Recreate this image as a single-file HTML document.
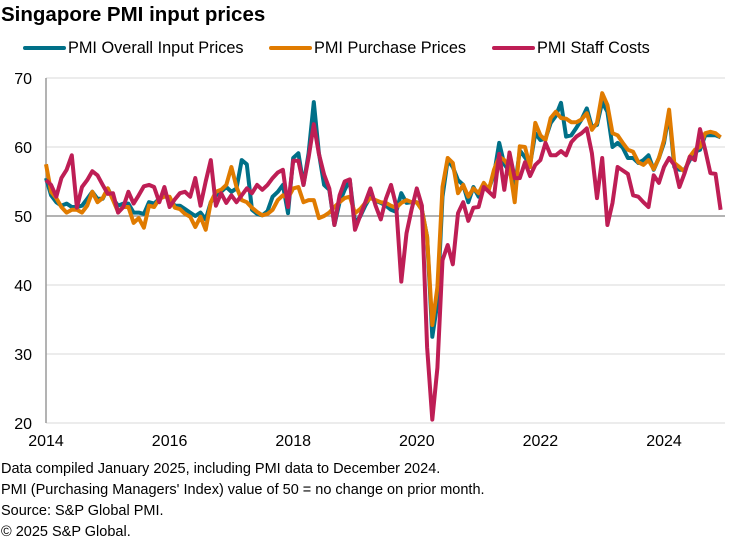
<!DOCTYPE html>
<html><head><meta charset="utf-8"><style>
body{margin:0;background:#fff;font-family:"Liberation Sans",Arial,sans-serif;}
svg text{font-family:"Liberation Sans",Arial,sans-serif;}
</style></head><body>
<svg id="chart" width="743" height="541" xmlns="http://www.w3.org/2000/svg">
<text x="1" y="21" font-size="20.5" font-weight="bold" fill="#000">Singapore PMI input prices</text>
<g>
 <g><line x1="25" y1="48" x2="64" y2="48" stroke="#007088" stroke-width="4" stroke-linecap="round"/><text x="68" y="53" font-size="16.3">PMI Overall Input Prices</text></g>
 <g><line x1="271" y1="48" x2="310" y2="48" stroke="#e07b00" stroke-width="4" stroke-linecap="round"/><text x="314" y="53" font-size="16.3">PMI Purchase Prices</text></g>
 <g><line x1="494" y1="48" x2="533" y2="48" stroke="#be1e55" stroke-width="4" stroke-linecap="round"/><text x="537" y="53" font-size="16.3">PMI Staff Costs</text></g>
</g>
<g id="grid"></g>
<g id="series"></g>
<g font-size="14.5" fill="#000">
 <text x="1" y="473">Data compiled January 2025, including PMI data to December 2024.</text>
 <text x="1" y="494">PMI (Purchasing Managers' Index) value of 50 = no change on prior month.</text>
 <text x="1" y="515">Source: S&amp;P Global PMI.</text>
 <text x="1" y="536">© 2025 S&amp;P Global.</text>
</g>
</svg>
<script>
const yTicks=[20,30,40,50,60,70];
const xTickLabels=["2014","2016","2018","2020","2022","2024"];
const startYear=2014;
const overall=[
55.5,53,52,51.5,51.8,51.3,51.3,51.5,52.5,53.5,52.5,52.5,
54,52.5,51.5,51.8,51.8,50.5,50.5,50.3,52,51.8,52.5,53,
52.5,51.5,51.5,51,50.5,50,50.5,49.5,52,53,53.5,54.2,
53.5,54,58.1,57.5,50.9,50.3,50.1,50.7,52.8,53.5,54.5,50.4,
58.4,59.1,54.5,59.1,66.5,59.1,54.5,53.8,48.7,52,53.8,55.2,
49,49.9,51.5,52.8,52.2,51.9,51.5,50.9,50.6,53.3,51.9,52,
52,50.9,47,32.5,37.4,52.8,58.1,57.1,55.2,54.5,52,54.2,
52.8,54.5,54,56,60.6,57.5,56.5,54,59.5,58.5,57.5,62,
61,61.2,63.5,64.5,66.4,61.5,61.7,62.8,64,65.6,62.9,63.2,
66.5,65.1,60,60.6,59.9,58.4,58.4,57.7,58.1,58.8,56.7,58.4,
60.6,64.9,57.1,56.7,56.7,58.1,59.3,59.6,61.7,61.7,61.7,61.4];
const purchase=[
57.5,53.5,52.6,51.3,50.5,50.9,50.9,50.5,51.5,53.5,52,52.6,
54,52.3,50.6,51.3,51.3,49,49.7,48.3,51.5,51.3,52.5,52.8,
52.8,51.2,51,50.3,49.9,48.4,49.9,48,52,53.5,53.8,54.5,
57.1,54.2,52.3,52,51.2,50.6,50.1,50.3,50.9,52.3,53,52.6,
54,54.2,52,52.3,52.3,49.7,50,50.5,51.3,52,52.6,52.8,
50.4,51,51.9,52.6,52.3,52,51.9,51.5,51.2,51.9,52.3,52,
52,50.9,47,34.2,39.7,54.2,58.4,57.7,53.3,54.5,52.8,54,
53.3,54.8,53.8,56.7,58.6,58.1,57.1,52,60.1,60,57.1,63.5,
61.7,61,64.2,65.1,64.2,64.1,63.6,63.6,64,64.9,62.5,63.5,
67.8,66.1,62,61.7,60.6,59.6,59.3,57.8,57.4,58.1,56.8,58.4,
61,65.4,57.7,57.1,56.4,58.6,59.6,60,62,62.2,62,61.4];
const staff=[
55.2,54.5,52.8,55.5,56.7,58.8,51.2,54.2,55.2,56.5,55.9,54.5,
53.2,53.3,50.5,51.3,53.5,51.8,53,54.3,54.5,54.2,52,54.2,
51.3,52.4,53.3,53.5,52.8,55.5,51.5,55,58.1,51.5,53.3,51.9,
53,52,53,54,53.3,54.5,53.8,54.5,55.5,56.3,56.7,51.3,
58,58,54.5,58.5,63.3,59,56,54,48.7,53,55,55.3,
48,50,52,54,51.5,49.5,52.5,54.5,51.5,40.5,47.5,51,
54,51.5,31,20.5,28,43.6,45.8,43,50.4,52,49.3,51.2,
51.3,54.2,53.5,52.8,59,53.8,59.2,55.5,55.5,57.8,55.8,57.4,
58.1,60.6,58.8,58.8,59.4,58.8,60.7,61.5,62,62.7,59.1,52.6,
58.4,48.7,51.9,57.1,56.6,56.1,53,52.8,52,51.3,55.9,54.8,
57.1,58.4,57.4,54.2,56.2,58.6,58.1,62.6,59.6,56.2,56.1,50.9];

const NS='http://www.w3.org/2000/svg';
const x0=46,yearW=61.8,yTop=78,yBot=423;
function xScale(i){return x0+i*yearW/12;}
function yScale(v){return yBot-(v-20)*(yBot-yTop)/50;}
const grid=document.getElementById('grid');
yTicks.forEach(t=>{
  const l=document.createElementNS(NS,'line');
  
  
  l.setAttribute('x1',x0);l.setAttribute('x2',725);
  l.setAttribute('y1',yScale(t));l.setAttribute('y2',yScale(t));
  l.setAttribute('stroke',t===50?'#9a9a9a':'#d9d9d9');
  l.setAttribute('stroke-width',t===50?1.5:1);
  grid.appendChild(l);
  const tx=document.createElementNS(NS,'text');
  
  
  tx.setAttribute('x',32);tx.setAttribute('y',yScale(t)+6);
  tx.setAttribute('text-anchor','end');tx.setAttribute('font-size','16');
  tx.textContent=t;grid.appendChild(tx);
});
const ax=document.createElementNS(NS,'line');


ax.setAttribute('x1',x0);ax.setAttribute('x2',x0);ax.setAttribute('y1',yTop);ax.setAttribute('y2',yBot);
ax.setAttribute('stroke','#9a9a9a');ax.setAttribute('stroke-width','1.5');
grid.appendChild(ax);
xTickLabels.forEach(lbl=>{
  const tx=document.createElementNS(NS,'text');
  
  
  tx.setAttribute('x',xScale((+lbl-startYear)*12));tx.setAttribute('y',446);
  tx.setAttribute('text-anchor','middle');tx.setAttribute('font-size','16');
  tx.textContent=lbl;grid.appendChild(tx);
});
const sg=document.getElementById('series');
[[overall,'#007088','overall-input-prices-line'],[purchase,'#e07b00','purchase-prices-line'],[staff,'#be1e55','staff-costs-line']].forEach(([d,c,n])=>{
  const p=document.createElementNS(NS,'polyline');
  
  
  p.setAttribute('points',d.map((v,i)=>xScale(i).toFixed(1)+','+yScale(v).toFixed(1)).join(' '));
  p.setAttribute('fill','none');p.setAttribute('stroke',c);p.setAttribute('stroke-width','4');
  p.setAttribute('stroke-linejoin','round');
  sg.appendChild(p);
});
</script>
</body></html>
